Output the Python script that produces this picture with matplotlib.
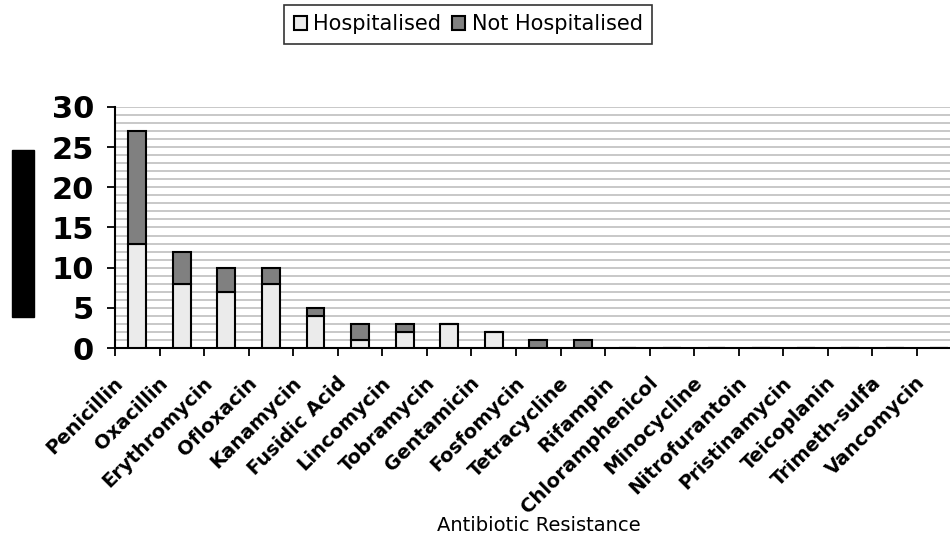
import matplotlib.pyplot as plt
import matplotlib.transforms as mtransforms
from matplotlib.patches import Rectangle
import numpy as np

# data
antibiotics = ['Penicillin', 'Oxacillin', 'Erythromycin', 'Ofloxacin', 'Kanamycin',
               'Fusidic Acid', 'Lincomycin', 'Tobramycin', 'Gentamicin', 'Fosfomycin',
               'Tetracycline', 'Rifampin', 'Chloramphenicol', 'Minocycline',
               'Nitrofurantoin', 'Pristinamycin', 'Teicoplanin', 'Trimeth-sulfa',
               'Vancomycin']
hospitalised = [13, 8, 7, 8, 4, 1, 2, 3, 2, 0, 0, 0, 0, 0, 0, 0, 0, 0, 0]
not_hospitalised = [14, 4, 3, 2, 1, 2, 1, 0, 0, 1, 1, 0, 0, 0, 0, 0, 0, 0, 0]
y_ticks = [0, 5, 10, 15, 20, 25, 30]

W, H = 950, 539
fig = plt.figure(figsize=(W / 100, H / 100), dpi=100)

# axes box in pixels: left 115, bottom 348, top 107, right runs off the figure
left, right, top, bottom = 115, 961.6, 107, 348
ax = fig.add_axes([left / W, 1 - bottom / H, (right - left) / W, (bottom - top) / H])

x = np.arange(len(antibiotics))
light = '#ebebeb'
dark = '#808080'
ax.bar(x, hospitalised, width=0.4, color=light, edgecolor='black', linewidth=1.5,
       label='Hospitalised', zorder=3)
ax.bar(x, not_hospitalised, width=0.4, bottom=hospitalised, color=dark,
       edgecolor='black', linewidth=1.5, label='Not Hospitalised', zorder=3)

ax.set_xlim(-0.5, len(antibiotics) - 0.5)
ax.set_ylim(0, 30)

# light grey lines at every unit
for v in range(1, 31):
    ax.axhline(v, color='#c8c8c8', lw=1.4, zorder=1)

for s in ['top', 'right']:
    ax.spines[s].set_visible(False)
ax.spines['left'].set_linewidth(1.5)
ax.spines['bottom'].set_linewidth(1.5)

ax.set_yticks(y_ticks)
ax.set_yticklabels([str(v) for v in y_ticks], fontsize=22, fontweight='bold',
                   family='DejaVu Sans')
ax.tick_params(axis='y', length=6, width=1.3, pad=9)

# ticks on category boundaries, labels at centres
ax.set_xticks(np.arange(len(antibiotics)) - 0.5)
ax.set_xticklabels([])
ax.tick_params(axis='x', length=6, width=1.3)
ax.set_xticks(x, minor=True)
ax.set_xticklabels(antibiotics, minor=True, rotation=45, ha='right', va='center',
                   rotation_mode='anchor', fontsize=14, fontweight='bold')
ax.tick_params(axis='x', which='minor', length=0, pad=23)
off = mtransforms.ScaledTranslation(-17 / 100, 0, fig.dpi_scale_trans)
for lab in ax.get_xticklabels(minor=True):
    lab.set_transform(lab.get_transform() + off)

ax.set_xlabel('Antibiotic Resistance', fontsize=14)
ax.xaxis.set_label_coords((539 - left) / (right - left), -(516 - bottom) / (bottom - top))

# black box where the y label was
fig.patches.append(Rectangle((12 / W, 1 - 317 / H), 22 / W, 167 / H,
                             transform=fig.transFigure, color='black'))

leg = fig.legend(loc='upper center', bbox_to_anchor=(468 / W, 1 - 5 / H), ncol=2,
                 fontsize=15, frameon=True, fancybox=False, edgecolor='black',
                 handlelength=0.65, handleheight=0.65, handletextpad=0.3,
                 columnspacing=0.5, borderpad=0.45, borderaxespad=0)
leg.get_frame().set_linewidth(1.2)

fig.savefig('out.png', dpi=100)
